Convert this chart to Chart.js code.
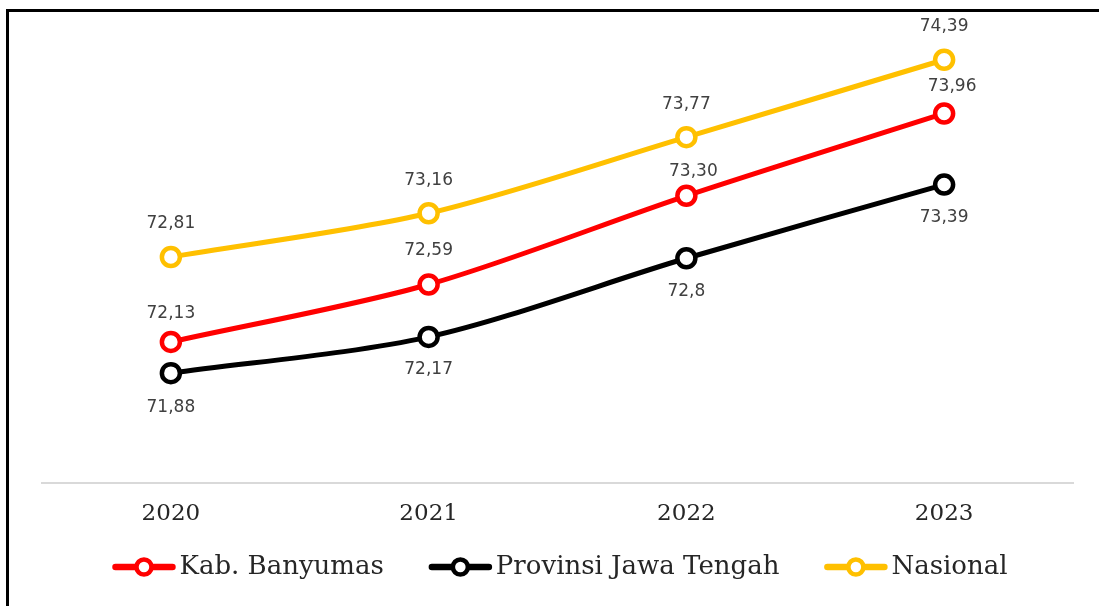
<!DOCTYPE html>
<html>
<head>
<meta charset="utf-8">
<script src="https://cdn.jsdelivr.net/npm/chart.js@4"></script>
<style>
  body { margin: 0; background: #fff; }
  #wrap { position: relative; width: 1099px; height: 606px; }
  #frame { position: absolute; left: 6px; top: 9px; right: 0; bottom: 0;
           border-left: 3px solid #000; border-top: 3px solid #000; pointer-events: none; }
</style>
</head>
<body>
<div id="wrap">
  <canvas id="myChart" width="1099" height="606"></canvas>
  <div id="frame"></div>
</div>
<script>
// categories
const years = ['2020', '2021', '2022', '2023'];

// series values
const banyumas = [72.13, 72.59, 73.30, 73.96];
const jateng = [71.88, 72.17, 72.8, 73.39];
const nasional = [72.81, 73.16, 73.77, 74.39];

// series names
const seriesNames = ['Kab. Banyumas', 'Provinsi Jawa Tengah', 'Nasional'];
const seriesColors = ['#ff0000', '#000000', '#ffc000'];

// where the value labels sit relative to each point
const labelDy = [[-28, -34, -24, -27], [34, 33, 33, 33], [-33, -33, -33, -33]];
const labelDx = [[0, 0, 7, 8], [0, 0, 0, 0], [0, 0, 0, 0]];
const labelDecimals = [2, null, null];

function fmt(v, d) {
    let s = d ? v.toFixed(d) : String(v);
    return s.replace('.', ',');
}

// value labels
const valueLabels = {
    id: 'valueLabels',
    afterDatasetsDraw(chart) {
        const ctx = chart.ctx;
        ctx.save();
        ctx.font = '17px "DejaVu Sans"';
        ctx.fillStyle = '#404040';
        ctx.textAlign = 'center';
        ctx.textBaseline = 'middle';
        chart.data.datasets.forEach((ds, di) => {
            const meta = chart.getDatasetMeta(di);
            meta.data.forEach((pt, i) => {
                ctx.fillText(fmt(ds.data[i], labelDecimals[di]), pt.x + labelDx[di][i], pt.y + labelDy[di][i]);
            });
        });
        ctx.restore();
    }
};

// legend with line + circle markers
const lineLegend = {
    id: 'lineLegend',
    afterDraw(chart) {
        const ctx = chart.ctx;
        ctx.save();
        ctx.font = '26px "DejaVu Serif"';
        const markW = 63, textGap = 4, itemGap = 45;
        const widths = seriesNames.map(n => ctx.measureText(n).width);
        let total = 0;
        widths.forEach((w, i) => { total += markW + textGap + w + (i < widths.length - 1 ? itemGap : 0); });
        let x = 560 - total / 2;
        const y = 567;
        seriesNames.forEach((name, i) => {
            ctx.strokeStyle = seriesColors[i];
            ctx.lineWidth = 6.5;
            ctx.lineCap = 'round';
            ctx.beginPath();
            ctx.moveTo(x + 3, y);
            ctx.lineTo(x + markW - 3, y);
            ctx.stroke();
            ctx.beginPath();
            ctx.arc(x + markW / 2, y, 7.5, 0, Math.PI * 2);
            ctx.fillStyle = '#fff';
            ctx.fill();
            ctx.lineWidth = 4.5;
            ctx.stroke();
            ctx.fillStyle = '#262626';
            ctx.textAlign = 'left';
            ctx.textBaseline = 'middle';
            ctx.fillText(name, x + markW + textGap, y);
            x += markW + textGap + widths[i] + itemGap;
        });
        ctx.restore();
    }
};

const allSeries = [banyumas, jateng, nasional];

let ctx = document.getElementById('myChart').getContext('2d');
let myChart = new Chart(ctx, {
    type: 'line',
    data: {
        labels: years,
        datasets: allSeries.map((d, i) => ({
            label: seriesNames[i],
            data: d,
            borderColor: seriesColors[i],
            backgroundColor: '#ffffff',
            pointBorderColor: seriesColors[i],
            pointBackgroundColor: '#ffffff',
            borderWidth: 5,
            pointRadius: 9,
            pointBorderWidth: 4.5,
            tension: 0.3,
            fill: false
        }))
    },
    options: {
        responsive: false,
        animation: false,
        layout: { padding: { top: 46, left: 42, right: 26, bottom: 60 } },
        plugins: {
            legend: { display: false },
            tooltip: { enabled: false }
        },
        scales: {
            x: {
                offset: true,
                grid: { display: false, drawTicks: false },
                border: { display: true, color: '#d9d9d9', width: 2 },
                ticks: {
                    font: { family: 'DejaVu Serif', size: 23 },
                    color: '#262626',
                    padding: 17
                },
                afterFit(scale) { scale.height = 63; }
            },
            y: {
                display: false,
                min: 71,
                max: 74.5
            }
        }
    },
    plugins: [valueLabels, lineLegend]
});
</script>
</body>
</html>
